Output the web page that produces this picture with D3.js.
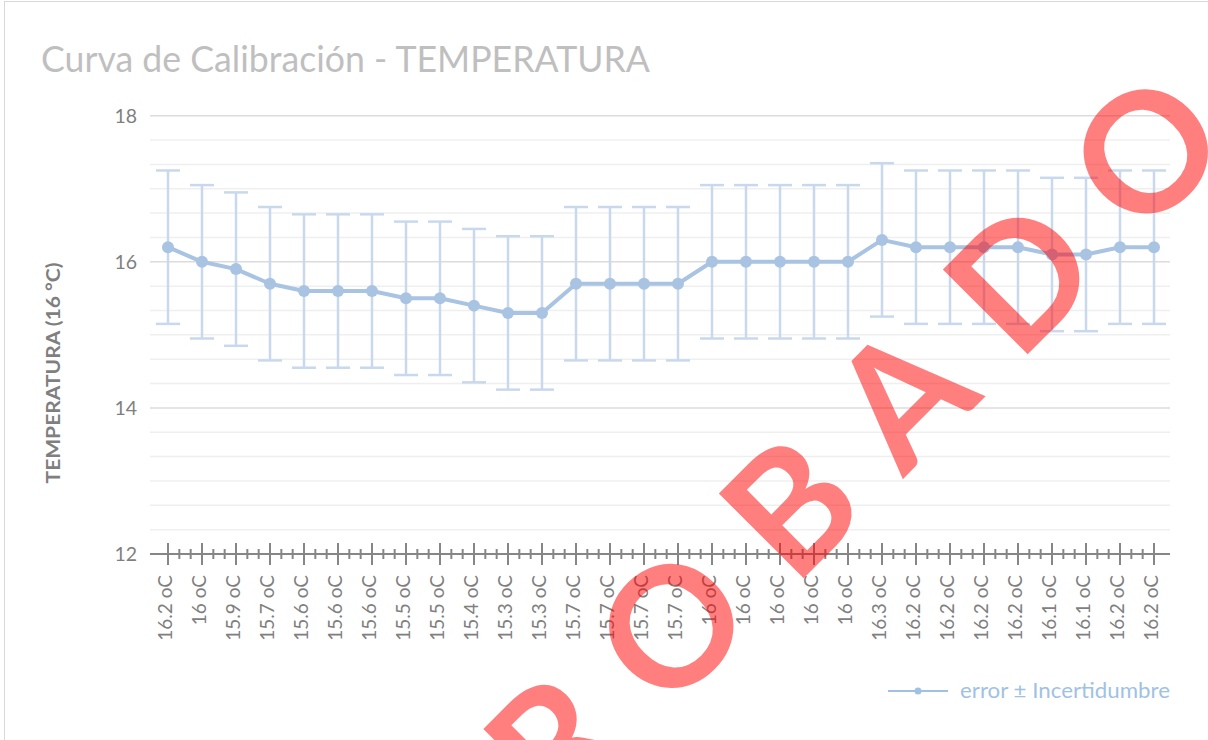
<!DOCTYPE html>
<html>
  <head>
    <meta charset="utf-8" />
    <title>Curva de Calibración</title>
    <script src="https://d3js.org/d3.v7.min.js"></script>
    <style>

      body {
        margin: 0;
        background: #fff;
      }

      text {
        font-family: Lato, "Open Sans", sans-serif;
      }

    </style>
  </head>
  <body>

    <svg id="viz"></svg>

    <script>

      // valores
      var labels = [
        "16.2 oC", "16 oC", "15.9 oC", "15.7 oC", "15.6 oC", "15.6 oC",
        "15.6 oC", "15.5 oC", "15.5 oC", "15.4 oC", "15.3 oC", "15.3 oC",
        "15.7 oC", "15.7 oC", "15.7 oC", "15.7 oC", "16 oC", "16 oC",
        "16 oC", "16 oC", "16 oC", "16.3 oC", "16.2 oC", "16.2 oC",
        "16.2 oC", "16.2 oC", "16.1 oC", "16.1 oC", "16.2 oC", "16.2 oC"
      ];

      var values = [
        16.2, 16, 15.9, 15.7, 15.6, 15.6,
        15.6, 15.5, 15.5, 15.4, 15.3, 15.3,
        15.7, 15.7, 15.7, 15.7, 16, 16,
        16, 16, 16, 16.3, 16.2, 16.2,
        16.2, 16.2, 16.1, 16.1, 16.2, 16.2
      ];

      var uncertainty = [
        1.05, 1.05, 1.05, 1.05, 1.05, 1.05,
        1.05, 1.05, 1.05, 1.05, 1.05, 1.05,
        1.05, 1.05, 1.05, 1.05, 1.05, 1.05,
        1.05, 1.05, 1.05, 1.05, 1.05, 1.05,
        1.05, 1.05, 1.05, 1.05, 1.05, 1.05
      ];

      var yTicks = [12, 14, 16, 18];
      var title = "Curva de Calibración - TEMPERATURA";
      var yTitle = "TEMPERATURA (16 °C)";
      var seriesName = "error ± Incertidumbre";

      var width = 1208;
      var height = 740;

      var svg = d3.select("#viz")
        .attr("width", width)
        .attr("height", height);

      // borde del area del grafico
      svg.append("rect")
        .attr("x", 4.5)
        .attr("y", 1.5)
        .attr("width", 1300)
        .attr("height", 900)
        .attr("fill", "#fff")
        .attr("stroke", "#d9d9d9")
        .attr("stroke-width", 1);

      var x = d3.scaleBand()
        .domain(d3.range(values.length))
        .range([151, 1171]);

      var cx = function(i) { return x(i) + x.bandwidth() / 2; };

      var y = d3.scaleLinear()
        .domain([12, 18])
        .range([554, 115.7]);

      // rejilla menor y mayor
      var minor = d3.range(1, 18).map(function(k) { return 12 + k / 3; })
        .filter(function(v) { return Math.abs(v - Math.round(v / 2) * 2) > 0.01; });

      svg.append("g").selectAll("line")
        .data(minor)
        .enter().append("line")
        .attr("x1", 150).attr("x2", 1170)
        .attr("y1", function(d) { return y(d); })
        .attr("y2", function(d) { return y(d); })
        .attr("stroke", "#efefef")
        .attr("stroke-width", 1.5);

      svg.append("g").selectAll("line")
        .data(yTicks.filter(function(d) { return d > 12; }))
        .enter().append("line")
        .attr("x1", 150).attr("x2", 1170)
        .attr("y1", function(d) { return y(d); })
        .attr("y2", function(d) { return y(d); })
        .attr("stroke", "#dcdcdc")
        .attr("stroke-width", 1.5);

      // etiquetas eje y
      svg.append("g").selectAll("text")
        .data(yTicks)
        .enter().append("text")
        .attr("x", 137)
        .attr("y", function(d) { return y(d); })
        .attr("dy", "0.36em")
        .attr("text-anchor", "end")
        .attr("font-size", 19.5)
        .attr("fill", "#7f7f7f")
        .text(function(d) { return d; });

      // eje x con marcas cruzadas
      var axis = svg.append("g");
      axis.append("line")
        .attr("x1", 150).attr("x2", 1170)
        .attr("y1", y(12)).attr("y2", y(12))
        .attr("stroke", "#868686")
        .attr("stroke-width", 2);

      axis.selectAll("line.major")
        .data(d3.range(values.length))
        .enter().append("line")
        .attr("class", "major")
        .attr("x1", cx).attr("x2", cx)
        .attr("y1", y(12) - 11).attr("y2", y(12) + 11)
        .attr("stroke", "#868686")
        .attr("stroke-width", 2);

      var minorX = [];
      d3.range(values.length - 1).forEach(function(i) {
        minorX.push(i + 1 / 3, i + 2 / 3);
      });

      axis.selectAll("line.minor")
        .data(minorX)
        .enter().append("line")
        .attr("class", "minor")
        .attr("x1", function(d) { return x(0) + x.bandwidth() * (d + 0.5); })
        .attr("x2", function(d) { return x(0) + x.bandwidth() * (d + 0.5); })
        .attr("y1", y(12) - 5).attr("y2", y(12) + 5)
        .attr("stroke", "#868686")
        .attr("stroke-width", 2);

      axis.selectAll("text")
        .data(labels)
        .enter().append("text")
        .attr("transform", function(d, i) {
          return "translate(" + cx(i) + "," + 575 + ") rotate(-90)";
        })
        .attr("dy", "0.2em")
        .attr("text-anchor", "end")
        .attr("font-size", 19)
        .attr("fill", "#7f7f7f")
        .text(function(d) { return d; });

      // barras de error
      var bars = svg.append("g")
        .attr("stroke", "#c9d9ed")
        .attr("stroke-width", 2.5);

      values.forEach(function(v, i) {
        var top = y(v + uncertainty[i]);
        var bot = y(v - uncertainty[i]);
        bars.append("line")
          .attr("x1", cx(i)).attr("x2", cx(i))
          .attr("y1", top).attr("y2", bot);
        bars.append("line")
          .attr("x1", cx(i) - 12).attr("x2", cx(i) + 12)
          .attr("y1", top).attr("y2", top);
        bars.append("line")
          .attr("x1", cx(i) - 12).attr("x2", cx(i) + 12)
          .attr("y1", bot).attr("y2", bot);
      });

      // serie
      var line = d3.line()
        .x(function(d, i) { return cx(i); })
        .y(function(d) { return y(d); });

      svg.append("path")
        .datum(values)
        .attr("d", line)
        .attr("fill", "none")
        .attr("stroke", "#a9c3e2")
        .attr("stroke-width", 4)
        .attr("stroke-linejoin", "round");

      svg.append("g").selectAll("circle")
        .data(values)
        .enter().append("circle")
        .attr("cx", function(d, i) { return cx(i); })
        .attr("cy", function(d) { return y(d); })
        .attr("r", 6)
        .attr("fill", "#a9c3e2");

      // titulos
      svg.append("text")
        .attr("x", 41)
        .attr("y", 72)
        .attr("font-size", 37)
        .attr("textLength", 609)
        .attr("lengthAdjust", "spacingAndGlyphs")
        .attr("fill", "#bfbfbf")
        .text(title);

      svg.append("text")
        .attr("transform", "translate(60,373) rotate(-90)")
        .attr("text-anchor", "middle")
        .attr("font-size", 18.5)
        .attr("font-weight", "bold")
        .attr("textLength", 221)
        .attr("lengthAdjust", "spacingAndGlyphs")
        .attr("fill", "#7f7f7f")
        .text(yTitle);

      // leyenda
      var legend = svg.append("g");
      legend.append("line")
        .attr("x1", 888).attr("x2", 948)
        .attr("y1", 691).attr("y2", 691)
        .attr("stroke", "#9fc2e4")
        .attr("stroke-width", 2);
      legend.append("circle")
        .attr("cx", 918).attr("cy", 691)
        .attr("r", 3.5)
        .attr("fill", "#9fc2e4");
      legend.append("text")
        .attr("x", 960)
        .attr("y", 698)
        .attr("font-size", 21)
        .attr("textLength", 210)
        .attr("lengthAdjust", "spacingAndGlyphs")
        .attr("fill", "#9fc2e4")
        .text(seriesName);

      // marca de agua
      svg.append("text")
        .attr("transform", "translate(338,1044) rotate(-45)")
        .attr("font-family", "'Liberation Sans', Arial, sans-serif")
        .attr("font-weight", "bold")
        .attr("font-size", 166)
        .attr("letter-spacing", 47)
        .attr("fill", "#ff0000")
        .attr("fill-opacity", 0.5)
        .text("APROBADO");

    </script>
  </body>
</html>
